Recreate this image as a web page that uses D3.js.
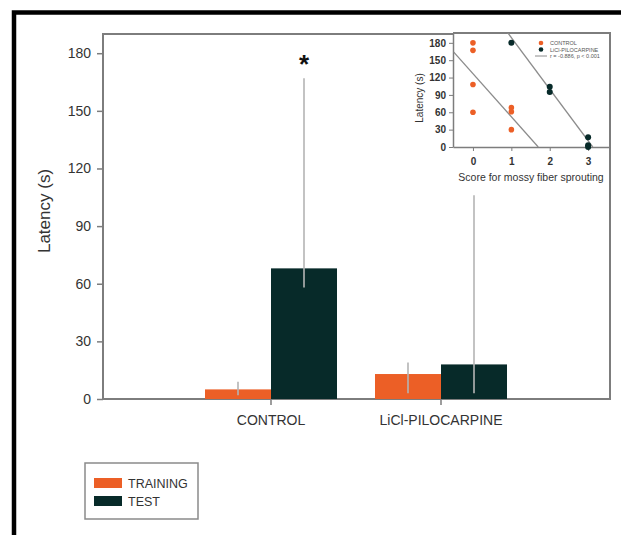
<!DOCTYPE html>
<html>
<head>
<meta charset="utf-8">
<script src="https://cdn.jsdelivr.net/npm/d3@7"></script>
<style>
  body { margin: 0; background: #fff; }
  svg { display: block; font-family: "Liberation Sans", Arial, sans-serif; }
</style>
</head>
<body>
<svg id="chart" width="621" height="535"></svg>
<script>
// main bar chart data
const groups = ["CONTROL", "LiCl-PILOCARPINE"];
const series = ["TRAINING", "TEST"];
const trainingMean = [5, 13];
const trainingLow = [2, 3];
const trainingHigh = [9, 19];
const testMean = [68, 18];
const testLow = [58, 3];
const testHigh = [167, 106];
const yTicks = [0, 30, 60, 90, 120, 150, 180];

// inset scatter data
const ctrlScore = [0, 0, 0, 0, 1, 1, 1];
const ctrlLatency = [180, 167, 108, 60, 68, 61, 30];
const liclScore = [1, 2, 2, 3, 3, 3];
const liclLatency = [180, 104, 95, 17, 3, 0];
const ctrlFit = [[-0.5, 164], [1.7, 0]];
const liclFit = [[0.9, 198], [3.12, 0]];
const insetXTicks = [0, 1, 2, 3];
const insetYTicks = [0, 30, 60, 90, 120, 150, 180];
const insetLegend = ["CONTROL", "LiCl-PILOCARPINE", "r = -0.886, p < 0.001"];

const orange = "#ec5f26", dark = "#072a29", grey = "#7d7d7d", textCol = "#333";

const svg = d3.select("#chart");

// outer black frame (only left and top edges are inside the picture)
svg.append("path")
    .attr("d", "M14,535V12.5H621")
    .attr("fill", "none")
    .attr("stroke", "#000")
    .attr("stroke-width", 4.5);

const x0 = d3.scaleBand().domain(groups).range([186, 526])
    .paddingInner(0.2235).paddingOuter(0.11175);
const x1 = d3.scaleBand().domain(series).range([0, x0.bandwidth()]);
const y = d3.scaleLinear().domain([0, 190]).range([399, 34]);

// plot frame
svg.append("rect")
    .attr("x", 103).attr("y", y(190))
    .attr("width", 610 - 103).attr("height", y(0) - y(190))
    .attr("fill", "none").attr("stroke", grey).attr("stroke-width", 2);

const yAxis = svg.append("g")
    .attr("transform", "translate(103,0)")
    .call(d3.axisLeft(y).tickValues(yTicks).tickSize(6).tickPadding(6));
yAxis.select(".domain").remove();
yAxis.selectAll("line").attr("stroke", grey).attr("stroke-width", 1.5);
yAxis.selectAll("text").attr("fill", textCol).style("font-size", "14px");

const xAxis = svg.append("g")
    .attr("transform", "translate(0," + y(0) + ")")
    .call(d3.axisBottom(x0).tickSize(6).tickPadding(10).tickSizeOuter(0));
xAxis.select(".domain").remove();
xAxis.selectAll("line").attr("stroke", grey).attr("stroke-width", 1.5);
xAxis.selectAll("text").attr("fill", textCol).style("font-size", "14px");

svg.append("text")
    .attr("transform", "translate(50,211) rotate(-90)")
    .attr("text-anchor", "middle")
    .attr("fill", textCol)
    .style("font-size", "17px")
    .text("Latency (s)");

const rows = [];
groups.forEach((g, i) => {
    rows.push({ g: g, s: "TRAINING", v: trainingMean[i], lo: trainingLow[i], hi: trainingHigh[i], c: orange });
    rows.push({ g: g, s: "TEST", v: testMean[i], lo: testLow[i], hi: testHigh[i], c: dark });
});

svg.append("g").selectAll("rect")
    .data(rows).join("rect")
    .attr("x", d => x0(d.g) + x1(d.s))
    .attr("width", x1.bandwidth())
    .attr("y", d => y(d.v))
    .attr("height", d => y(0) - y(d.v))
    .attr("fill", d => d.c);

svg.append("g").selectAll("line")
    .data(rows).join("line")
    .attr("x1", d => x0(d.g) + x1(d.s) + x1.bandwidth() / 2)
    .attr("x2", d => x0(d.g) + x1(d.s) + x1.bandwidth() / 2)
    .attr("y1", d => y(d.lo))
    .attr("y2", d => y(d.hi))
    .attr("stroke", "#b4b4b4")
    .attr("stroke-width", 1.6);

// significance mark over CONTROL test
svg.append("text")
    .attr("x", x0("CONTROL") + x1("TEST") + x1.bandwidth() / 2)
    .attr("y", y(testHigh[0]) - 5)
    .attr("text-anchor", "middle")
    .style("font-size", "26px")
    .style("font-weight", "bold")
    .attr("fill", "#111")
    .text("*");

// legend
const lg = svg.append("g").attr("transform", "translate(85,463)");
lg.append("rect").attr("width", 113).attr("height", 56)
    .attr("fill", "#fff").attr("stroke", "#8a8a8a").attr("stroke-width", 1.5);
series.forEach((s, i) => {
    lg.append("rect").attr("x", 9).attr("y", 15 + i * 18)
        .attr("width", 28).attr("height", 10)
        .attr("fill", i === 0 ? orange : dark);
    lg.append("text").attr("x", 43).attr("y", 25 + i * 18)
        .attr("fill", textCol).style("font-size", "12.5px").text(s);
});

// ---- inset scatter ----
const ix = d3.scaleLinear().domain([-0.52, 3.57]).range([453, 610]);
const iy = d3.scaleLinear().domain([0, 197]).range([147, 33]);

const inset = svg.append("g");
inset.append("rect")
    .attr("x", 453).attr("y", 33).attr("width", 157).attr("height", 114)
    .attr("fill", "#fff");

svg.append("clipPath").attr("id", "iclip")
    .append("rect").attr("x", 453).attr("y", 33).attr("width", 157).attr("height", 114);

const iyAxis = inset.append("g")
    .attr("transform", "translate(453,0)")
    .call(d3.axisLeft(iy).tickValues(insetYTicks).tickSize(4).tickPadding(3).tickSizeOuter(0));
const ixAxis = inset.append("g")
    .attr("transform", "translate(0,147)")
    .call(d3.axisBottom(ix).tickValues(insetXTicks).tickFormat(d3.format("d"))
        .tickSize(4).tickPadding(7).tickSizeOuter(0));
[iyAxis, ixAxis].forEach(a => {
    a.select(".domain").attr("stroke", grey).attr("stroke-width", 1.5);
    a.selectAll("line").attr("stroke", grey);
    a.selectAll("text").attr("fill", textCol).style("font-size", "10px").style("font-weight", "bold");
});
// frame top/right over the inset
inset.append("path").attr("d", "M453,33H610V147")
    .attr("fill", "none").attr("stroke", grey).attr("stroke-width", 2);

inset.append("text")
    .attr("x", 531).attr("y", 181)
    .attr("text-anchor", "middle").attr("fill", textCol)
    .style("font-size", "10.5px")
    .text("Score for mossy fiber sprouting");
inset.append("text")
    .attr("transform", "translate(423,98) rotate(-90)")
    .attr("text-anchor", "middle").attr("fill", textCol)
    .style("font-size", "10px")
    .text("Latency (s)");

const fitLine = d3.line().x(d => ix(d[0])).y(d => iy(d[1]));
inset.append("g").attr("clip-path", "url(#iclip)")
    .selectAll("path").data([ctrlFit, liclFit]).join("path")
    .attr("d", fitLine)
    .attr("fill", "none").attr("stroke", "#8c8c8c").attr("stroke-width", 1.3);

inset.append("g").selectAll("circle")
    .data(d3.zip(ctrlScore, ctrlLatency)).join("circle")
    .attr("cx", d => ix(d[0])).attr("cy", d => iy(d[1])).attr("r", 2.8)
    .attr("fill", orange);
inset.append("g").selectAll("circle")
    .data(d3.zip(liclScore, liclLatency)).join("circle")
    .attr("cx", d => ix(d[0])).attr("cy", d => iy(d[1])).attr("r", 3)
    .attr("fill", dark);

const il = inset.append("g").attr("transform", "translate(541,43)");
insetLegend.forEach((t, i) => {
    if (i < 2) {
        il.append("circle").attr("cx", 0).attr("cy", i * 6.5).attr("r", 2.3)
            .attr("fill", i === 0 ? orange : dark);
    } else {
        il.append("line").attr("x1", -6).attr("x2", 6).attr("y1", i * 6.5).attr("y2", i * 6.5)
            .attr("stroke", "#8c8c8c").attr("stroke-width", 1);
    }
    il.append("text").attr("x", 9).attr("y", i * 6.5 + 2)
        .attr("fill", "#555").style("font-size", "5.5px").text(t);
});
</script>
</body>
</html>
